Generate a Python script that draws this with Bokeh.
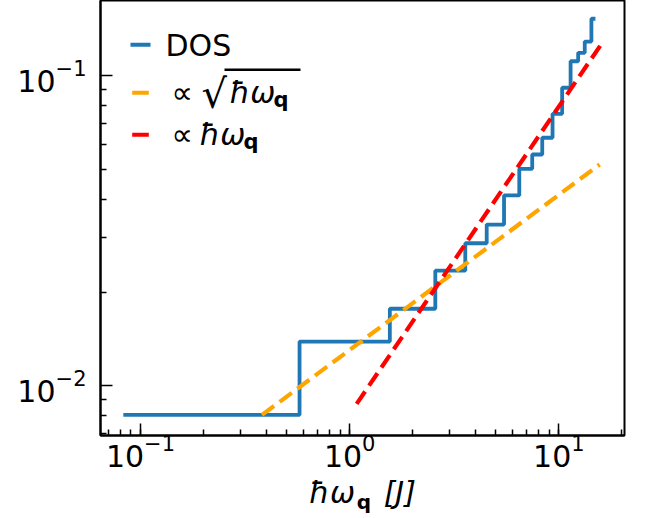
from bokeh.plotting import figure
from bokeh.models import Label, BoxAnnotation, FixedTicker, LogAxis
from bokeh.embed import file_html
from bokeh.resources import INLINE

# DOS histogram (bin edges and values)
dos_edges = [0.0828, 0.576, 1.556, 2.567, 3.57, 4.52, 5.47, 6.47, 7.46, 8.33,
             9.33, 10.37, 11.38, 12.37, 13.3, 14.31, 14.96]
dos_values = [0.00804, 0.01387, 0.0177, 0.0235, 0.0288, 0.0331, 0.0411, 0.0501,
              0.0557, 0.0631, 0.0754, 0.0915, 0.1114, 0.1186, 0.129, 0.1528]

# reference power laws (endpoints)
sqrt_x = [0.381, 15.67]
sqrt_y = [0.00804, 0.0517]
lin_x = [1.08, 15.8]
lin_y = [0.00873, 0.1253]

# y-axis ticks
y_major = [0.01, 0.1]
y_minor = [0.007, 0.008, 0.009, 0.02, 0.03, 0.04, 0.05, 0.06, 0.07, 0.08, 0.09]

FONT = "DejaVu Sans"
FS = 30
SUB = 21
K = 0.37  # baseline compensation (fraction of font size)
NB = "\u00a0"

p = figure(width=652, height=518, x_axis_type="log", y_axis_type="log",
           x_range=(0.0644, 20.6), y_range=(0.0069, 0.175),
           output_backend="svg", toolbar_location=None,
           min_border_left=100, min_border_right=28, min_border_top=0,
           min_border_bottom=83)
p.background_fill_color = "white"
p.border_fill_color = "white"
p.xgrid.visible = False
p.ygrid.visible = False
p.outline_line_color = "black"
p.outline_line_width = 2
p.yaxis.ticker = FixedTicker(ticks=y_major, minor_ticks=y_minor)

for ax in (p.xaxis[0], p.yaxis[0]):
    ax.axis_line_width = 2
    ax.axis_line_color = "black"
    ax.major_tick_in = 12
    ax.major_tick_out = 0
    ax.minor_tick_in = 6
    ax.minor_tick_out = 0
    ax.major_tick_line_width = 1.5
    ax.minor_tick_line_width = 1.5
    ax.major_label_text_font = FONT
    ax.major_label_text_font_size = f"{FS}px"
    ax.major_label_text_color = "black"
p.xaxis.major_label_standoff = -2
p.yaxis.major_label_standoff = 14

# x axis label: "ħω_q [J]" (the bold subscript q comes from a helper axis)
xa = p.xaxis[0]
xa.axis_label = "ħω" + NB * 3 + "[J]"
xa.axis_label_text_font = FONT
xa.axis_label_text_font_size = f"{FS}px"
xa.axis_label_text_font_style = "italic"
xa.axis_label_text_color = "black"
xa.axis_label_standoff = 5

q_pos = 1.169  # horizontal place of the subscript (layout, not data)
q_axis = LogAxis(ticker=FixedTicker(ticks=[q_pos], minor_ticks=[]),
                 major_label_overrides={q_pos: "q"},
                 axis_line_color=None, major_tick_line_color=None,
                 minor_tick_line_color=None, major_tick_in=0, major_tick_out=0,
                 minor_tick_in=0, minor_tick_out=0,
                 major_label_text_font=FONT, major_label_text_font_size="20px",
                 major_label_text_font_style="bold", major_label_text_color="black",
                 major_label_standoff=-23)
p.add_layout(q_axis, "below")

# data
step_y = dos_values + [dos_values[-1]]
p.step(x=dos_edges, y=step_y, mode="after", line_color="#1f77b4", line_width=3.8)
p.line(x=sqrt_x, y=sqrt_y, line_color="orange", line_width=4.2, line_dash="15 7")
p.line(x=lin_x, y=lin_y, line_color="red", line_width=4.2, line_dash="15 7")

# frame-relative screen coordinates: image (X, Y) -> (X-100, 435-Y)
def sx(X):
    return X - 100

def sy(Y):
    return 435 - Y

def lab(text, X, Y, size=FS, style="normal"):
    p.add_layout(Label(x=sx(X), y=sy(Y - K * size), x_units="screen", y_units="screen",
                       text=text, text_font=FONT, text_font_size=f"{size}px",
                       text_font_style=style, text_color="black",
                       text_align="left", text_baseline="alphabetic"))

def box(X0, X1, Y0, Y1, color):
    p.add_layout(BoxAnnotation(left=sx(X0), right=sx(X1), bottom=sy(Y1),
                               top=sy(Y0), left_units="screen",
                               right_units="screen", bottom_units="screen",
                               top_units="screen", fill_color=color,
                               fill_alpha=1.0, line_alpha=0))

# legend
box(130, 150, 42.3, 46.3, "#1f77b4")
box(131.7, 148.3, 90.3, 94.3, "orange")
box(131.7, 148.3, 132.3, 136.3, "red")
lab("DOS", 165, 56)
lab("∝", 171, 103)
lab("√", 201, 108, size=40)
box(224, 300, 68, 70.5, "black")
lab("ħω", 229, 103, style="italic")
lab("q", 273, 107, size=SUB, style="bold")
lab("∝", 171, 145)
lab("ħω", 199, 145, style="italic")
lab("q", 243, 149, size=SUB, style="bold")

open("out.html", "w").write(file_html(p, INLINE))
